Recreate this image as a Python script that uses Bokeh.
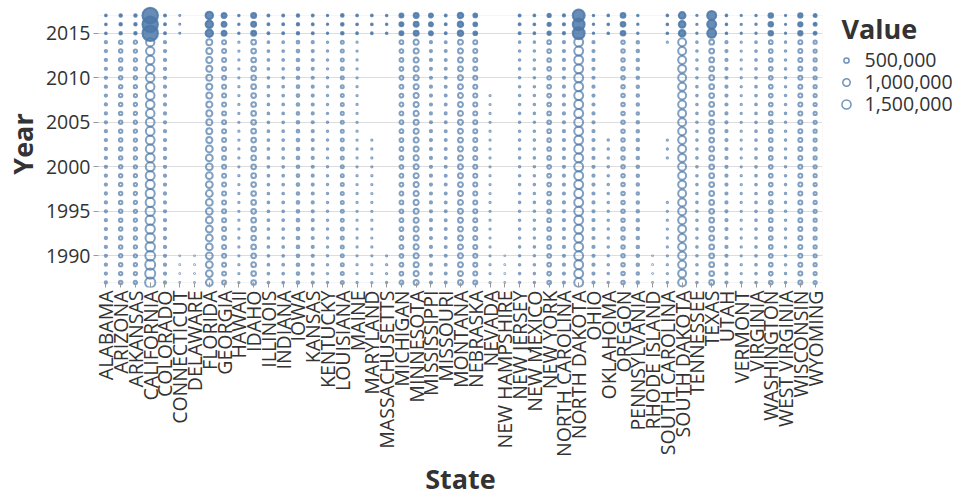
import numpy as np
from bokeh.plotting import figure
from bokeh.models import (ColumnDataSource, FactorRange, Range1d, FixedTicker,
                          BoxAnnotation, Label)
from bokeh.layouts import row
from bokeh.embed import file_html
from bokeh.resources import INLINE
from bokeh.core.properties import value

N = None

states = ["ALABAMA", "ARIZONA", "ARKANSAS", "CALIFORNIA", "COLORADO", "CONNECTICUT",
          "DELAWARE", "FLORIDA", "GEORGIA", "HAWAII", "IDAHO", "ILLINOIS", "INDIANA",
          "IOWA", "KANSAS", "KENTUCKY", "LOUISIANA", "MAINE", "MARYLAND",
          "MASSACHUSETTS", "MICHIGAN", "MINNESOTA", "MISSISSIPPI", "MISSOURI",
          "MONTANA", "NEBRASKA", "NEVADA", "NEW HAMPSHIRE", "NEW JERSEY", "NEW MEXICO",
          "NEW YORK", "NORTH CAROLINA", "NORTH DAKOTA", "OHIO", "OKLAHOMA", "OREGON",
          "PENNSYLVANIA", "RHODE ISLAND", "SOUTH CAROLINA", "SOUTH DAKOTA", "TENNESSEE",
          "TEXAS", "UTAH", "VERMONT", "VIRGINIA", "WASHINGTON", "WEST VIRGINIA",
          "WISCONSIN", "WYOMING"]

# annual years 1987..2014 (values in thousands)
years = list(range(1987, 2015))
recent_years = [2015, 2016, 2017]

AL = [95,95,95,95,95,95,95, 95,95,95,95,95,95,95, 95,95,95,95,95,95,95, 95,95,95,95,95,95,95]
AZ = [220,220,220,220,220,220,220, 220,220,220,220,220,220,220, 220,220,220,220,220,220,220, 220,220,220,220,220,220,220]
AR = [200,200,200,200,200,200,200, 200,200,200,200,200,200,200, 200,200,200,200,200,200,200, 200,200,200,200,200,200,200]
CA = [1900,1850,1800,1750,1620,1600,1580, 1560,1550,1520,1500,1480,1460,1450, 1440,1420,1400,1380,1360,1350,1340, 1330,1320,1310,1300,1290,1280,1270]
CO = [95,95,95,95,95,95,95, 95,95,95,95,95,95,95, 95,95,95,95,95,95,95, 95,95,95,95,95,95,95]
CT = [12,12,12,12,N,N,N, N,N,N,N,N,N,N, N,N,N,N,N,N,N, N,N,N,N,N,N,N]
DE = [12,12,12,12,N,N,N, N,N,N,N,N,N,N, N,N,N,N,N,N,N, N,N,N,N,N,N,N]
FL = [850,850,850,850,850,850,850, 850,850,850,850,850,850,850, 850,850,660,660,660,660,660, 660,660,660,660,660,660,660]
GA = [290,290,290,290,290,290,290, 290,290,290,290,290,290,290, 290,290,290,290,290,290,290, 290,290,290,290,290,290,290]
HI = [30,30,30,30,30,30,30, 30,30,30,30,30,30,30, 30,30,30,30,30,30,30, 30,30,30,30,30,30,30]
ID = [400,400,400,400,400,400,400, 400,400,400,400,400,400,400, 400,400,400,400,400,400,400, 400,400,400,400,400,400,400]
IL = [55,55,55,55,55,55,55, 55,55,55,55,55,55,55, 55,55,55,55,55,55,55, 55,55,55,55,55,55,55]
IN = [55,55,55,55,55,55,55, 55,55,55,55,55,55,55, 55,55,55,55,55,55,55, 55,55,55,55,55,55,55]
IA = [130,130,130,130,130,130,130, 130,130,130,130,130,130,130, 130,130,130,130,130,130,130, 130,130,130,130,130,130,130]
KS = [85,85,85,85,85,85,85, 85,85,85,85,85,85,85, 85,85,85,85,85,85,85, 85,85,85,85,85,85,85]
KY = [40,40,40,40,40,40,40, 40,40,40,40,40,40,40, 40,40,40,40,40,40,40, 40,40,40,40,40,40,40]
LA = [165,165,165,165,165,165,165, 165,165,165,165,165,165,165, 165,165,165,165,165,165,165, 165,165,165,165,165,165,165]
ME = [30,30,30,30,30,30,30, 30,30,30,30,30,30,30, 30,30,30,30,30,30,30, 30,30,30,30,30,30,30]
MD = [28,28,28,28,28,28,28, 28,28,28,28,28,28,28, 28,28,28,N,N,N,N, N,N,N,N,N,N,N]
MA = [30,30,30,30,N,N,N, N,N,N,N,N,N,N, N,N,N,N,N,N,N, N,N,N,N,N,N,N]
MI = [265,265,265,265,265,265,265, 265,265,265,265,265,265,265, 265,265,265,265,265,265,265, 265,265,265,265,265,265,265]
MN = [470,470,470,470,470,470,470, 470,470,470,470,470,470,470, 470,470,470,470,470,470,470, 470,470,470,470,470,470,470]
MS = [88,88,88,88,88,88,88, 88,88,88,88,88,88,88, 88,88,88,88,88,88,88, 88,88,88,88,88,88,88]
MO = [75,75,75,75,75,75,75, 75,75,75,75,75,75,75, 75,75,75,75,75,75,75, 75,75,75,75,75,75,75]
MT = [440,440,440,440,440,440,440, 440,440,440,440,440,440,440, 440,440,440,440,440,440,440, 440,440,440,440,440,440,440]
NE = [290,290,290,290,290,290,290, 290,290,290,290,290,290,290, 290,290,290,290,290,290,290, 290,290,290,290,290,290,290]
NV = [26,26,26,26,26,26,26, 26,26,26,26,26,26,26, 26,26,26,26,26,26,26, 26,N,N,N,N,N,N]
NH = [12,12,12,12,N,N,N, N,N,N,N,N,N,N, N,N,N,N,N,N,N, N,N,N,N,N,N,N]
NJ = [47,47,47,47,47,47,47, 47,47,47,47,47,47,47, 47,47,47,47,47,47,47, 47,47,47,47,47,47,47]
NM = [47,47,47,47,47,47,47, 47,47,47,47,47,47,47, 47,47,47,47,47,47,47, 47,47,47,47,47,47,47]
NY = [250,250,250,250,250,250,250, 250,250,250,250,250,250,250, 250,250,250,250,250,250,250, 250,250,250,250,250,250,250]
NC = [88,88,88,88,88,88,88, 88,88,88,88,88,88,88, 88,88,88,88,88,88,88, 88,88,88,88,88,88,88]
ND = [1450,1450,1450,1450,1450,1450,1450, 1450,1450,1450,1450,1450,1450,1450, 1450,1450,1450,1450,1450,1450,1450, 1450,1450,1450,1450,1450,1450,1450]
OH = [88,88,88,88,88,88,88, 88,88,88,88,88,88,88, 88,88,88,88,88,88,88, 88,88,88,88,88,88,88]
OK = [41,41,41,41,41,41,41, 41,41,41,41,41,41,41, 41,41,41,N,N,N,N, N,N,N,N,N,N,N]
OR = [224,224,224,224,224,224,224, 224,224,224,224,224,224,224, 224,224,224,224,224,224,224, 224,224,224,224,224,224,224]
PA = [114,114,114,114,114,114,114, 114,114,114,114,114,114,114, 114,114,114,114,114,114,114, 114,114,114,114,114,114,114]
RI = [12,12,12,12,N,N,N, N,N,N,N,N,N,N, N,N,N,N,N,N,N, N,N,N,N,N,N,N]
SC = [31,31,31,31,31,31,31, 31,31,31,N,N,N,N, 31,31,31,N,N,N,N, N,N,N,N,N,N,31]
SD = [1150,1150,1150,1150,1150,1150,1150, 1150,1150,1150,1150,1150,1150,1150, 1150,1150,1150,1150,1150,1150,1150, 1150,1150,1150,1150,1150,1150,1150]
TN = [47,47,47,47,47,47,47, 47,47,47,47,47,47,47, 47,47,47,47,47,47,47, 47,47,47,47,47,47,47]
TX = [420,420,420,420,420,420,420, 420,420,420,420,420,420,420, 420,420,420,420,420,420,420, 420,420,420,420,420,420,420]
UT = [88,88,88,88,88,88,88, 88,88,88,88,88,88,88, 88,88,88,88,88,88,88, 88,88,88,88,88,88,88]
VT = [31,31,31,31,31,31,31, 31,31,31,31,31,31,31, 31,31,31,31,31,31,31, 31,31,31,31,31,31,31]
VA = [53,53,53,53,53,53,53, 53,53,53,53,53,53,53, 53,53,53,53,53,53,53, 53,53,53,53,53,53,53]
WA = [250,250,250,250,250,250,250, 250,250,250,250,250,250,250, 250,250,250,250,250,250,250, 250,250,250,250,250,250,250]
WV = [47,47,47,47,47,47,47, 47,47,47,47,47,47,47, 47,47,47,47,47,47,47, 47,47,47,47,47,47,47]
WI = [292,292,292,292,292,292,292, 292,292,292,292,292,292,292, 292,292,292,292,292,292,292, 292,292,292,292,292,292,292]
WY = [187,187,187,187,187,187,187, 187,187,187,187,187,187,187, 187,187,187,187,187,187,187, 187,187,187,187,187,187,187]

annual = [AL, AZ, AR, CA, CO, CT, DE, FL, GA, HI, ID, IL, IN, IA, KS, KY, LA, ME, MD,
          MA, MI, MN, MS, MO, MT, NE, NV, NH, NJ, NM, NY, NC, ND, OH, OK, OR, PA, RI,
          SC, SD, TN, TX, UT, VT, VA, WA, WV, WI, WY]

# 2015-2017: largest recorded value per state (thousands), several overlapping records per year
recent_2015 = [55, 114, 114, 4400, 73, 18, N, 1030, 457, 41, 457, 73, 73, 114, 73, 41, 133,
               60, 60, 45, 292, 457, 292, 73, 552, 250, N, N, 73, 59, 199, 97, 2600, 41, 53,
               403, 41, N, 53, 820, 31, 1480, 53, 31, 41, 370, 31, 338, 164]
recent_2016 = [55, 114, 114, 4400, 73, 18, N, 1030, 457, 41, 457, 73, 73, 114, 73, 41, 133,
               60, 60, 45, 292, 457, 292, 73, 552, 250, N, N, 73, 59, 199, 97, 2600, 41, 53,
               403, 41, N, 53, 820, 31, 1480, 53, 31, 41, 370, 31, 338, 164]
recent_2017 = [55, 114, 114, 4400, 73, 18, N, 1030, 457, 41, 457, 73, 73, 114, 73, 41, 133,
               60, 60, 45, 292, 457, 292, 73, 552, 250, N, N, 73, 59, 199, 97, 2600, 41, 53,
               403, 41, N, 53, 820, 31, 1480, 53, 31, 41, 370, 31, 338, 164]
recent = [recent_2015, recent_2016, recent_2017]

value_unit = 1000
legend_values = [500000, 1000000, 1500000]
legend_labels = ["500,000", "1,000,000", "1,500,000"]
year_ticks = [1990, 1995, 2000, 2005, 2010, 2015]

for s in annual:
    assert len(s) == len(years)

SIZE_K = 7.4e-3  # px of diameter per sqrt(value): area proportional to value
BLUE = "#4c78a8"
FONT = "Open Sans"
TXT = "#333333"
LBL = "19.5px"

a_state, a_year, a_val = [], [], []
for st, series in zip(states, annual):
    for yr, v in zip(years, series):
        if v is not None:
            a_state.append(st); a_year.append(yr); a_val.append(v * value_unit)
r_state, r_year, r_val = [], [], []
for yr, lst in zip(recent_years, recent):
    for st, v in zip(states, lst):
        if v is not None:
            r_state.append(st); r_year.append(yr); r_val.append(v * value_unit)

src_a = ColumnDataSource(dict(state=a_state, year=a_year, value=a_val,
                              size=SIZE_K * np.sqrt(np.array(a_val, dtype=float))))
src_r = ColumnDataSource(dict(state=r_state, year=r_year, value=r_val,
                              size=SIZE_K * np.sqrt(np.array(r_val, dtype=float))))

p = figure(width=830, height=500,
           x_range=FactorRange(factors=states, range_padding=0),
           y_range=Range1d(1986.44, 2018.68),
           output_backend="svg", toolbar_location=None,
           min_border_left=92, min_border_right=8, min_border_top=0, min_border_bottom=212)
p.outline_line_color = None
p.background_fill_color = "white"
p.border_fill_color = "white"

p.add_layout(BoxAnnotation(bottom=min(years), top=max(recent_years), fill_color=None,
                           line_color="#dddddd", line_width=1, level="underlay"))

p.scatter(x="state", y="year", size="size", source=src_a, marker="circle",
          fill_color=None, line_color=BLUE, line_alpha=0.7, line_width=2)
p.scatter(x="state", y="year", size="size", source=src_r, marker="circle",
          fill_color=BLUE, fill_alpha=0.85, line_color=BLUE, line_alpha=0.85, line_width=2)

p.xgrid.visible = False
p.ygrid.ticker = FixedTicker(ticks=year_ticks)
p.ygrid.grid_line_color = "#dddddd"

p.yaxis.ticker = FixedTicker(ticks=year_ticks)
p.yaxis.axis_line_color = None
p.yaxis.major_tick_out = 5
p.yaxis.major_tick_in = 0
p.yaxis.minor_tick_line_color = None
p.yaxis.major_tick_line_color = "#999999"
p.yaxis.major_label_standoff = 3
p.yaxis.major_label_text_font = FONT
p.yaxis.major_label_text_font_size = LBL
p.yaxis.major_label_text_color = TXT
p.yaxis.axis_label = "Year"
p.yaxis.axis_label_text_font = FONT
p.yaxis.axis_label_text_font_size = "27px"
p.yaxis.axis_label_text_font_style = "bold"
p.yaxis.axis_label_text_color = TXT
p.yaxis.axis_label_standoff = 2

p.xaxis.axis_line_color = None
p.xaxis.major_tick_in = 5
p.xaxis.major_tick_out = 0
p.xaxis.major_tick_line_color = "#999999"
p.xaxis.major_label_orientation = np.pi / 2
p.xaxis.major_label_standoff = 3
p.xaxis.major_label_text_font = FONT
p.xaxis.major_label_text_font_size = LBL
p.xaxis.major_label_text_color = TXT
p.xaxis.axis_label = "State"
p.xaxis.axis_label_text_font = FONT
p.xaxis.axis_label_text_font_size = "27px"
p.xaxis.axis_label_text_font_style = "bold"
p.xaxis.axis_label_text_color = TXT
p.xaxis.axis_label_standoff = 0

# size legend: entries stacked downward (index i drawn at y = -i), 22 px per entry
idx = list(range(len(legend_values)))
lg = figure(frame_width=130, frame_height=132, x_range=Range1d(0, 130),
            y_range=Range1d(-3.273, 2.727),
            output_backend="svg", toolbar_location=None, x_axis_type=None, y_axis_type=None,
            min_border_left=0, min_border_right=0, min_border_top=0, min_border_bottom=0)
lg.outline_line_color = None
lg.xgrid.visible = False
lg.ygrid.visible = False
lsrc = ColumnDataSource(dict(y=[-i for i in idx], x=[16] * len(idx), tx=[34] * len(idx),
                             size=SIZE_K * np.sqrt(np.array(legend_values, dtype=float)),
                             label=legend_labels))
lg.scatter(x="x", y="y", size="size", source=lsrc, marker="circle", fill_color=None,
           line_color=BLUE, line_alpha=0.8, line_width=1.5)
lg.text(x="tx", y="y", text="label", source=lsrc, text_baseline="middle", text_align="left",
        text_font=value(FONT), text_font_size=LBL, text_color=TXT)
lg.add_layout(Label(x=11, y=1.45, text="Value", text_font=FONT, text_font_size="27px",
                    text_font_style="bold", text_color=TXT, text_baseline="alphabetic"))

layout = row(p, lg)
open("out.html", "w").write(file_html(layout, INLINE))
